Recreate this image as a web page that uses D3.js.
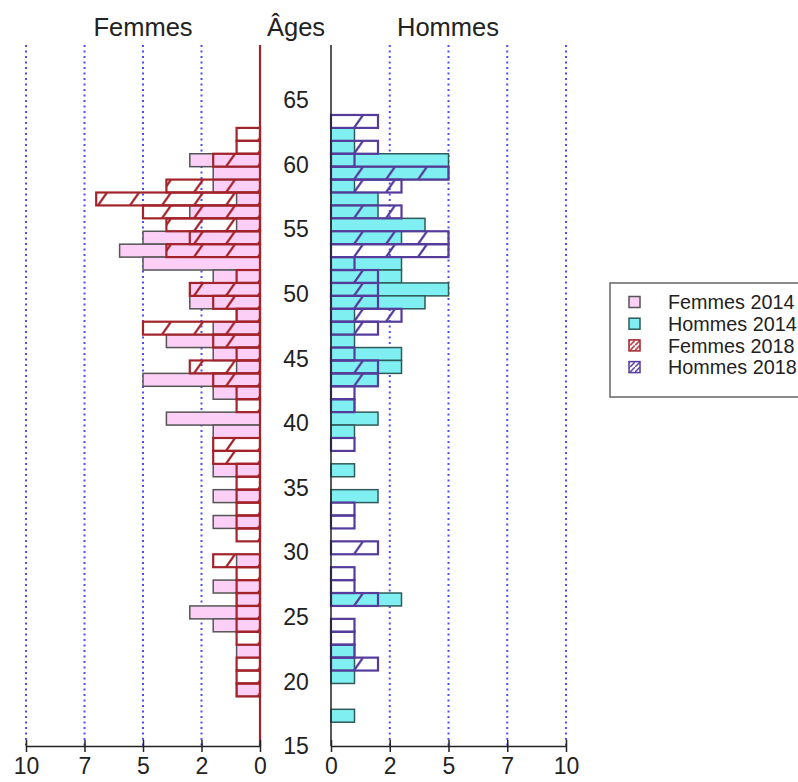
<!DOCTYPE html>
<html>
<head>
<meta charset="utf-8">
<script src="https://cdn.jsdelivr.net/npm/d3@7"></script>
<style>
  body { margin: 0; background: #fff; }
  text { font-family: "Liberation Sans", Arial, sans-serif; fill: #222; }
</style>
</head>
<body>
<svg></svg>
<script>
// one row per age, from top (63) to bottom (17)
const ages = d3.range(63, 16, -1);
const femmes2014 = [0,0,0,3,2,2,1,3,1,5,6,5,2,3,3,1,2,4,2,1,5,2,0,4,2,0,0,2,0,2,0,2,0,0,1,0,2,1,3,2,0,1,0,0,1,0,0];
const femmes2018 = [0,1,1,2,0,4,7,5,4,3,4,0,1,3,2,1,5,2,1,3,2,1,1,0,0,2,2,1,1,1,1,1,1,0,2,1,1,1,1,1,1,0,1,1,1,0,0];
const hommes2014 = [0,1,1,5,5,1,2,2,4,3,0,3,3,5,4,1,1,1,3,3,2,0,1,2,1,0,0,1,0,2,0,0,0,0,0,0,0,3,0,0,0,1,1,1,0,0,1];
const hommes2018 = [2,0,2,1,5,3,0,3,0,5,5,1,2,2,2,3,2,0,1,2,2,1,1,0,0,1,0,0,0,0,1,1,0,2,0,1,1,2,0,1,1,1,2,0,0,0,0];
const xTicks = [0, 2.5, 5, 7.5, 10];
const yTicks = [15, 20, 25, 30, 35, 40, 45, 50, 55, 60, 65];
const legendLabels = ['Femmes 2014', 'Hommes 2014', 'Femmes 2018', 'Hommes 2018'];

const WIDTH = 798, HEIGHT = 782;
const TOP = 45, BOTTOM = 746;
const RED = '#a3232b', PURPLE = '#553b9b';
const PINK = '#fccff6', CYAN = '#80eff1';

const svg = d3.select('svg').attr('width', WIDTH).attr('height', HEIGHT);

const y = d3.scaleLinear().domain([15, 65]).range([BOTTOM, 100]);
const xL = d3.scaleLinear().domain([0, 10]).range([260, 26]);
const xR = d3.scaleLinear().domain([0, 10]).range([331, 566]);
const rowTop = a => y(a + 0.84);
const rowH = y(0) - y(1);

// hatch patterns
const defs = svg.append('defs');
function hatch(id, color) {
    const p = defs.append('pattern')
        .attr('id', id)
        .attr('patternUnits', 'userSpaceOnUse')
        .attr('width', 32)
        .attr('height', rowH)
        .attr('y', rowTop(63));
    p.append('path')
        .attr('d', `M2,${rowH} L11,0`)
        .attr('stroke', color)
        .attr('stroke-width', 2.2);
}
hatch('hatchF', RED);
hatch('hatchH', PURPLE);

// grid lines
const grid = svg.append('g');
[xL, xR].forEach(sc => {
    grid.selectAll(null)
        .data(xTicks.slice(1))
        .enter()
        .append('line')
        .attr('x1', d => sc(d)).attr('x2', d => sc(d))
        .attr('y1', TOP).attr('y2', BOTTOM)
        .attr('stroke', '#4d4dff')
        .attr('stroke-width', 2)
        .attr('stroke-dasharray', '2,3.5');
});

function bars(values, sc, fill, stroke, sw) {
    const rows = ages.map((a, i) => ({ age: a, v: values[i] })).filter(d => d.v > 0);
    svg.append('g').selectAll('rect')
        .data(rows)
        .enter()
        .append('rect')
        .attr('x', d => Math.min(sc(0), sc(d.v)))
        .attr('width', d => Math.abs(sc(d.v) - sc(0)))
        .attr('y', d => rowTop(d.age))
        .attr('height', rowH)
        .attr('fill', fill)
        .attr('stroke', stroke)
        .attr('stroke-width', sw);
}
bars(femmes2014, xL, PINK, '#555', 1.5);
bars(hommes2014, xR, CYAN, '#2f5a5a', 1.5);
bars(femmes2018, xL, 'url(#hatchF)', RED, 2.2);
bars(hommes2018, xR, 'url(#hatchH)', PURPLE, 2.2);

// vertical axis lines
svg.append('line')
    .attr('x1', xL(0)).attr('x2', xL(0))
    .attr('y1', TOP).attr('y2', BOTTOM)
    .attr('stroke', RED).attr('stroke-width', 2.2);
svg.append('line')
    .attr('x1', xR(0)).attr('x2', xR(0))
    .attr('y1', TOP).attr('y2', BOTTOM)
    .attr('stroke', '#222').attr('stroke-width', 1.5);

// bottom axes
[xL, xR].forEach(sc => {
    const ax = svg.append('g')
        .attr('transform', `translate(0, ${BOTTOM})`)
        .call(d3.axisBottom(sc).tickValues(xTicks).tickFormat(d => Math.floor(d)).tickSize(6).tickSizeOuter(0));
    ax.select('.domain').attr('stroke', '#222').attr('stroke-width', 1.5);
    ax.selectAll('.tick line').attr('y1', -6).attr('stroke', '#222').attr('stroke-width', 1.5);
    ax.selectAll('.tick text')
        .attr('y', 12)
        .attr('font-size', 23)
        .attr('font-family', '"Liberation Sans", Arial, sans-serif')
        .attr('fill', '#222');
});

// age labels
svg.append('g').selectAll('text')
    .data(yTicks)
    .enter()
    .append('text')
    .text(d => d)
    .attr('x', 296)
    .attr('y', d => y(d))
    .attr('dy', '0.36em')
    .attr('text-anchor', 'middle')
    .attr('font-size', 23);

// titles
[['Femmes', 143], ['Âges', 296], ['Hommes', 448]].forEach(([t, x]) => {
    svg.append('text')
        .text(t)
        .attr('x', x)
        .attr('y', 36)
        .attr('text-anchor', 'middle')
        .attr('font-size', 25.5);
});

// legend
const legend = svg.append('g');
legend.append('rect')
    .attr('x', 610).attr('y', 283)
    .attr('width', 200).attr('height', 114)
    .attr('fill', '#fff')
    .attr('stroke', '#666')
    .attr('stroke-width', 1.5);
const swatches = [
    { fill: PINK, stroke: '#555' },
    { fill: CYAN, stroke: '#2f5a5a' },
    { fill: 'url(#lhatchF)', stroke: RED },
    { fill: 'url(#lhatchH)', stroke: PURPLE }
];
[['lhatchF', RED], ['lhatchH', PURPLE]].forEach(([id, c]) => {
    const p = defs.append('pattern')
        .attr('id', id)
        .attr('patternUnits', 'userSpaceOnUse')
        .attr('width', 5).attr('height', 5);
    p.append('path').attr('d', 'M0,5 L5,0').attr('stroke', c).attr('stroke-width', 1.5);
});
const entry = legend.selectAll('.entry')
    .data(legendLabels)
    .enter()
    .append('g')
    .attr('transform', (d, i) => `translate(0, ${302 + i * 21.7})`);
entry.append('rect')
    .attr('x', 629).attr('y', -5.5)
    .attr('width', 11).attr('height', 11)
    .attr('fill', (d, i) => swatches[i].fill)
    .attr('stroke', (d, i) => swatches[i].stroke)
    .attr('stroke-width', 1.5);
entry.append('text')
    .text(d => d)
    .attr('x', 668)
    .attr('dy', '0.36em')
    .attr('font-size', 19.8)
    .attr('fill', '#333');
</script>
</body>
</html>
